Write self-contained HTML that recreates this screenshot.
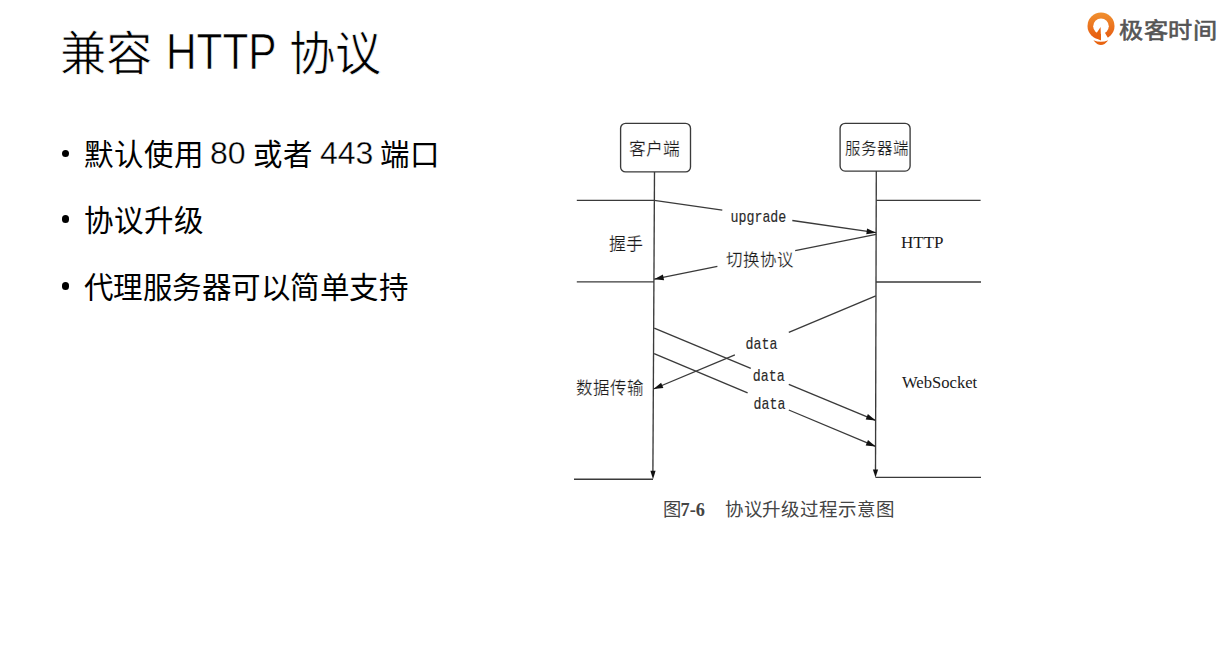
<!DOCTYPE html>
<html lang="zh-CN">
<head>
<meta charset="utf-8">
<style>
html,body{margin:0;padding:0;background:#fff;}
body{width:1225px;height:662px;position:relative;overflow:hidden;font-family:"Liberation Sans",sans-serif;color:#000;}
.t{position:absolute;white-space:nowrap;line-height:1;}
.thin{-webkit-text-stroke:0.7px #fff;}
.li{position:absolute;font-size:29.5px;white-space:nowrap;line-height:1;}
.li.d{font-size:32px;-webkit-text-stroke:0.35px #fff;}
.dot{position:absolute;width:7.6px;height:7.6px;border-radius:50%;background:#000;}
#logo-text{left:1118.8px;top:20.3px;font-size:22px;letter-spacing:0.45px;color:#555;-webkit-text-stroke:0.6px #555;transform:scaleX(1.1);transform-origin:0 0;}
svg{position:absolute;left:0;top:0;}
.dg{font-family:"Liberation Serif",serif;fill:#1a1a1a;}
.er{stroke:#fff;stroke-width:0.2px;}
.mono{font-family:"Liberation Mono",monospace;fill:#2a2a2a;stroke:#2a2a2a;stroke-width:0.12px;}
.cap{fill:#444;}
</style>
</head>
<body>
<div class="t thin" style="left:59.5px;top:31.1px;font-size:46.4px;">兼容</div>
<div class="t thin" style="left:165.5px;top:26.7px;font-size:49.4px;transform:scaleX(0.858);transform-origin:0 0;">HTTP</div>
<div class="t thin" style="left:289px;top:31.1px;font-size:46.4px;">协议</div>
<div class="dot" style="left:61.8px;top:149.6px"></div>
<div class="dot" style="left:61.8px;top:215.4px"></div>
<div class="dot" style="left:61.8px;top:282.2px"></div>
<div class="li" style="left:84px;top:140px">默认使用</div>
<div class="li d" style="left:210px;top:136.5px">80</div>
<div class="li" style="left:253px;top:140px">或者</div>
<div class="li d" style="left:320px;top:136.5px">443</div>
<div class="li" style="left:380px;top:140px">端口</div>
<div class="li" style="left:84px;top:206px">协议升级</div>
<div class="li" style="left:84px;top:273px;letter-spacing:-0.55px">代理服务器可以简单支持</div>
<div class="t" id="logo-text">极客时间</div>

<svg width="1225" height="662" viewBox="0 0 1225 662">
  <defs>
    <linearGradient id="og" x1="0" y1="0" x2="0" y2="1">
      <stop offset="0" stop-color="#f0902f"/>
      <stop offset="1" stop-color="#e65a10"/>
    </linearGradient>
  </defs>
  <!-- logo -->
  <g>
    <circle cx="1101" cy="26" r="13.5" fill="url(#og)"/>
    <circle cx="1101" cy="26.3" r="7.8" fill="#fff"/>
    <polygon points="1101,27 1101,41 1106,41 1108,38 1105,33" fill="#fff"/>
    <polygon points="1096.8,32.7 1100.6,27 1101,40.4 1098,39" fill="#e8630f"/>
    <path d="M1093.4,40.2 Q1101,43.2 1108.2,40.2 Q1101,50 1093.4,40.2 Z" fill="#e8630f"/>
  </g>
  <!-- diagram -->
  <g stroke="#3a3a3a" stroke-width="1.35" fill="none">
    <rect x="620.6" y="123.3" width="69.9" height="48.6" rx="5" ry="5"/>
    <rect x="840.1" y="123.3" width="70" height="47.8" rx="5" ry="5"/>
    <line x1="654.5" y1="172" x2="652.9" y2="472"/>
    <line x1="876.3" y1="171" x2="875.5" y2="471"/>
    <line x1="576.8" y1="200.3" x2="654.4" y2="200.3"/>
    <line x1="876.2" y1="200.3" x2="980.6" y2="200.3"/>
    <line x1="576.8" y1="281.8" x2="654" y2="281.8"/>
    <line x1="876" y1="282" x2="981" y2="282"/>
    <line x1="574" y1="479.2" x2="653" y2="479.2"/>
    <line x1="875.5" y1="477.3" x2="981" y2="477.3"/>
    <line x1="654.3" y1="200.3" x2="722.3" y2="210.2"/>
    <line x1="792.3" y1="220.5" x2="876.1" y2="232.7"/>
    <line x1="876.1" y1="234.4" x2="795.2" y2="250.7"/>
    <line x1="717.4" y1="266.4" x2="654.2" y2="279.2"/>
    <line x1="875.8" y1="295.9" x2="788.8" y2="332.3"/>
    <line x1="734.9" y1="354.9" x2="653.5" y2="389.0"/>
    <line x1="654.2" y1="328.2" x2="750.8" y2="368.4"/>
    <line x1="788.8" y1="384.3" x2="875.6" y2="420.4"/>
    <line x1="654.1" y1="353.6" x2="747.6" y2="392.8"/>
    <line x1="788.8" y1="410.0" x2="875.6" y2="446.4"/>
  </g>
  <g fill="#111">
    <polygon points="876.1,232.7 866.3,234.2 867.1,228.5"/>
    <polygon points="654.2,279.2 662.9,274.5 664.1,280.2"/>
    <polygon points="653.5,389.0 661.1,382.7 663.4,388.0"/>
    <polygon points="875.6,420.4 865.7,419.4 867.9,414.1"/>
    <polygon points="875.6,446.4 865.7,445.4 868.0,440.1"/>
    <polygon points="653.0,479.2 650.4,470.7 655.6,470.7"/>
    <polygon points="875.5,477.6 872.9,469.6 878.1,469.6"/>
  </g>
  <text class="dg er" x="629" y="154.5" font-size="16.8">客户端</text>
  <text class="dg er" x="845" y="154" font-size="15.5">服务器端</text>
  <text class="dg er" x="609" y="250" font-size="17">握手</text>
  <text class="dg" x="901" y="248" font-size="17">HTTP</text>
  <text class="dg er" x="576" y="393.5" font-size="16.5">数据传输</text>
  <text class="dg" x="902" y="388" font-size="16.6">WebSocket</text>
  <text class="mono" font-size="13.3" transform="translate(730.5,222) scale(1,1.18)">upgrade</text>
  <text class="dg er" x="725.5" y="266" font-size="16.5">切换协议</text>
  <text class="mono" font-size="13.3" transform="translate(745.5,349) scale(1,1.18)">data</text>
  <text class="mono" font-size="13.3" transform="translate(752.8,380.5) scale(1,1.18)">data</text>
  <text class="mono" font-size="13.3" transform="translate(753.5,408.5) scale(1,1.18)">data</text>
  <text class="dg cap" x="662.5" y="516" font-size="18.3">图<tspan font-weight="700">7-6</tspan></text>
  <text class="dg cap" x="724.8" y="516" font-size="18.5" letter-spacing="-0.15">协议升级过程示意图</text>
</svg>
</body>
</html>
